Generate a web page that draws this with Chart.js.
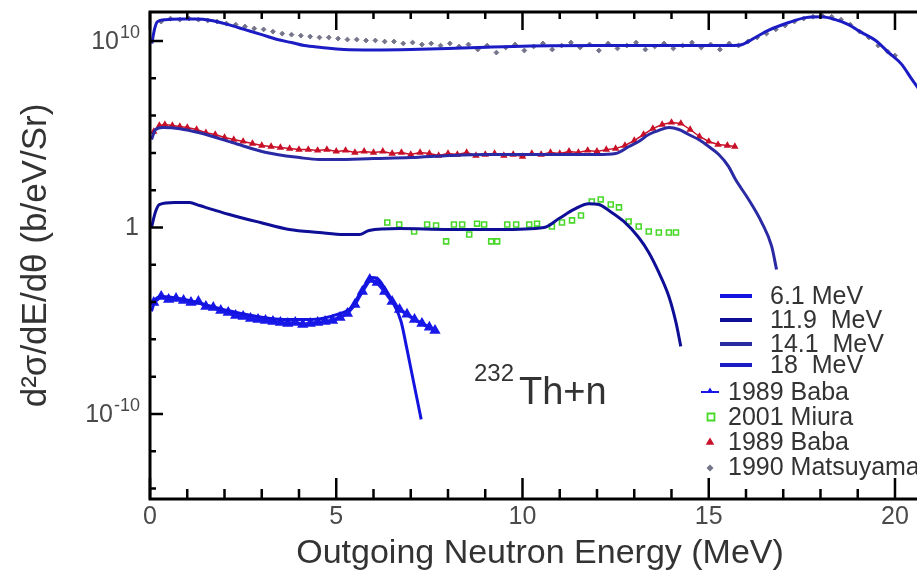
<!DOCTYPE html>
<html>
<head>
<meta charset="utf-8">
<script src="https://cdn.jsdelivr.net/npm/chart.js@4/dist/chart.umd.min.js"></script>
<style>
  html, body { margin: 0; padding: 0; background: #fff; overflow: hidden; }
  #wrap { position: relative; width: 940px; height: 574px; }
</style>
</head>
<body>
<div id="wrap"><canvas id="c"></canvas></div>
<script>
// ---------------- data ----------------
const seriesLabels = ['6.1 MeV', '11.9  MeV', '14.1  MeV', '18  MeV',
                      '1989 Baba', '2001 Miura', '1989 Baba', '1990 Matsuyama'];

// calculated curves
const energy61Calc = [0.04, 0.15, 0.31, 0.92, 1.46, 2.08, 2.72, 3.61, 4.33, 5.03, 5.40, 5.67, 5.94, 6.10, 6.29, 6.55, 6.74, 6.90, 7.09, 7.28];
const sigma61Calc  = [3.2e-5, 1.4e-4, 2.0e-4, 1.4e-4, 7.4e-5, 3.5e-5, 1.9e-5, 1.17e-5, 1.17e-5, 2.2e-5, 5.1e-5, 3.7e-4, 2.1e-3, 1.85e-3, 6.0e-4, 7.4e-5, 9.1e-6, 2.9e-7, 3.8e-9, 5.1e-11];

const energy119Calc = [0.04, 0.15, 0.25, 0.66, 1.06, 1.33, 2.13, 2.94, 3.74, 4.54, 5.21, 5.62, 5.88, 6.69, 8.03, 9.37, 10.58, 10.98, 11.38, 11.78, 12.05, 12.32, 12.72, 13.12, 13.39, 13.66, 13.93, 14.12, 14.25];
const sigma119Calc  = [1.0, 7.2, 17, 22, 22, 15, 5.0, 1.9, 0.78, 0.54, 0.42, 0.42, 0.69, 0.88, 0.78, 0.78, 1.0, 3.0, 9.3, 19, 17, 8.1, 2.1, 0.29, 0.046, 0.0039, 2.0e-4, 8.1e-6, 4.2e-7];

const energy141Calc = [0.04, 0.15, 0.34, 0.8, 1.33, 2.21, 3.12, 4.01, 4.54, 5.0, 6.0, 7.0, 8.03, 9.0, 10.0, 11.0, 12.0, 12.5, 12.86, 13.12, 13.39, 13.66, 13.93, 14.2, 14.46, 14.73, 15.0, 15.27, 15.53, 15.72, 16.07, 16.42, 16.69, 16.82];
const sigma141Calc  = [5.2e4, 1.8e5, 2.3e5, 2.0e5, 1.2e5, 3.6e4, 1.05e4, 5.6e3, 4.4e3, 4.4e3, 5.0e3, 5.6e3, 7.2e3, 8.2e3, 8.2e3, 8.2e3, 8.2e3, 9.3e3, 2.2e4, 4.1e4, 9.7e4, 1.6e5, 2.3e5, 1.8e5, 9.7e4, 5.2e4, 2.2e4, 8.2e3, 1.9e3, 3.7e2, 32, 1.9, 0.096, 0.0056];

const energy18Calc = [0.05, 0.12, 0.2, 0.4, 0.8, 1.2, 1.65, 2.1, 2.53, 3.0, 3.42, 3.8, 4.14, 4.6, 5.2, 6.0, 7.0, 8.0, 8.8, 10.2, 12.0, 14.0, 15.6, 15.9, 16.25, 16.6, 17.15, 17.6, 18.03, 18.4, 18.75, 19.1, 19.48, 19.83, 20.18, 20.45, 20.94];
const sigma18Calc  = [7.4e9, 4.2e10, 1.1e11, 1.4e11, 1.5e11, 1.5e11, 1.26e11, 7.6e10, 4.2e10, 2.2e10, 1.2e10, 8.3e9, 5.7e9, 4.5e9, 3.5e9, 3.3e9, 3.5e9, 4.0e9, 4.5e9, 5.4e9, 5.7e9, 5.7e9, 5.7e9, 6.5e9, 1.55e10, 3.7e10, 9.8e10, 1.8e11, 2.0e11, 1.4e11, 7.6e10, 2.9e10, 1.07e10, 2.4e9, 5.6e8, 9.0e7, 4.0e6];

// measurements
const energyBaba61 = [0.1, 0.3, 0.5, 0.7, 0.9, 1.1, 1.3, 1.5, 1.7, 1.9, 2.1, 2.3, 2.5, 2.7, 2.9, 3.1, 3.3, 3.5, 3.7, 3.9, 4.1, 4.3, 4.5, 4.7, 4.9, 5.1, 5.3, 5.5, 5.7, 5.9, 6.1, 6.3, 6.5, 6.7, 6.9, 7.1, 7.3, 7.5, 7.65];
const sigmaBaba61  = [9.5e-5, 2.0e-4, 1.38e-4, 1.55e-4, 1.22e-4, 9.5e-5, 1.07e-4, 5.8e-5, 5.1e-5, 3.5e-5, 2.8e-5, 1.9e-5, 1.7e-5, 1.32e-5, 1.17e-5, 1.03e-5, 9.1e-6, 8.1e-6, 7.1e-6, 8.1e-6, 6.3e-6, 7.1e-6, 8.1e-6, 9.1e-6, 1.03e-5, 1.5e-5, 2.45e-5, 7.4e-5, 3.7e-4, 1.6e-3, 1.12e-3, 3.7e-4, 1.07e-4, 4.0e-5, 2.2e-5, 1.17e-5, 7.1e-6, 4.4e-6, 3.0e-6];

const energyMiura = [6.37, 6.69, 7.09, 7.44, 7.68, 7.95, 8.16, 8.38, 8.57, 8.78, 8.97, 9.16, 9.32, 9.59, 9.83, 10.18, 10.39, 10.79, 11.06, 11.33, 11.57, 11.86, 12.10, 12.37, 12.59, 12.85, 13.12, 13.39, 13.66, 13.93, 14.12];
const sigmaMiura  = [1.85, 1.45, 0.61, 1.45, 1.28, 0.18, 1.45, 1.45, 0.42, 1.6, 1.45, 0.18, 0.18, 1.45, 1.45, 1.45, 1.6, 1.13, 1.85, 2.4, 4.4, 25, 32, 17, 12, 2.1, 1.13, 0.61, 0.54, 0.54, 0.54];

const energyBaba141 = [0.1, 0.25, 0.4, 0.6, 0.8, 1.0, 1.25, 1.5, 1.75, 2.0, 2.25, 2.5, 2.75, 3.0, 3.25, 3.5, 3.75, 4.0, 4.25, 4.5, 4.75, 5.0, 5.25, 5.5, 5.75, 6.0, 6.25, 6.5, 6.75, 7.0, 7.25, 7.5, 7.75, 8.0, 8.25, 8.5, 8.75, 9.0, 9.25, 9.5, 9.75, 10.0, 10.25, 10.5, 10.75, 11.0, 11.25, 11.5, 11.75, 12.0, 12.25, 12.5, 12.75, 13.0, 13.25, 13.5, 13.75, 14.0, 14.25, 14.5, 14.75, 15.0, 15.25, 15.5, 15.7];
const sigmaBaba141  = [1.4e5, 2.95e5, 3.3e5, 2.95e5, 2.6e5, 2.3e5, 1.8e5, 1.2e5, 9.7e4, 6.7e4, 5.2e4, 4.1e4, 3.2e4, 2.5e4, 2.2e4, 1.95e4, 1.7e4, 1.5e4, 1.5e4, 1.35e4, 1.5e4, 1.2e4, 1.35e4, 1.05e4, 1.2e4, 1.05e4, 1.2e4, 9.3e3, 1.05e4, 8.2e3, 1.05e4, 9.3e3, 7.2e3, 9.3e3, 8.2e3, 1.05e4, 7.2e3, 8.2e3, 9.3e3, 7.2e3, 8.2e3, 6.4e3, 9.3e3, 8.2e3, 1.05e4, 9.3e3, 1.2e4, 1.05e4, 1.35e4, 1.2e4, 1.5e4, 1.7e4, 2.5e4, 4.6e4, 9.7e4, 2.0e5, 3.3e5, 4.3e5, 3.8e5, 1.8e5, 7.6e4, 4.1e4, 2.8e4, 2.5e4, 2.2e4];

const energyMatsuyama = [0.3, 0.55, 0.8, 1.05, 1.3, 1.55, 1.8, 2.05, 2.3, 2.55, 2.8, 3.05, 3.3, 3.55, 3.8, 4.05, 4.3, 4.55, 4.8, 5.05, 5.3, 5.55, 5.8, 6.05, 6.3, 6.55, 6.8, 7.05, 7.3, 7.55, 7.8, 8.05, 8.3, 8.55, 8.8, 9.05, 9.3, 9.55, 9.8, 10.05, 10.3, 10.55, 10.8, 11.05, 11.3, 11.55, 11.8, 12.05, 12.3, 12.55, 12.8, 13.05, 13.3, 13.55, 13.8, 14.05, 14.3, 14.55, 14.8, 15.05, 15.3, 15.55, 15.8, 16.05, 16.3, 16.55, 16.8, 17.05, 17.3, 17.55, 17.8, 18.05, 18.3, 18.55, 18.8, 19.05, 19.3, 19.55, 19.8, 20.0];
const sigmaMatsuyama  = [1.1e11, 1.6e11, 1.4e11, 1.6e11, 1.4e11, 1.26e11, 1.1e11, 8.7e10, 7.6e10, 6.0e10, 4.7e10, 4.2e10, 3.2e10, 2.5e10, 2.2e10, 1.95e10, 1.74e10, 1.55e10, 1.55e10, 1.35e10, 1.2e10, 1.2e10, 1.07e10, 1.07e10, 9.4e9, 9.4e9, 7.4e9, 8.3e9, 6.5e9, 7.4e9, 5.7e9, 7.4e9, 5.1e9, 6.5e9, 3.5e9, 5.7e9, 2.4e9, 4.5e9, 6.5e9, 3.1e9, 5.1e9, 7.4e9, 3.5e9, 5.7e9, 8.3e9, 4.5e9, 6.5e9, 3.1e9, 7.4e9, 4.0e9, 5.7e9, 8.3e9, 3.5e9, 5.1e9, 7.4e9, 4.0e9, 5.7e9, 8.3e9, 4.5e9, 6.5e9, 3.5e9, 7.4e9, 5.7e9, 9.4e9, 1.55e10, 2.5e10, 4.2e10, 6.8e10, 1.1e11, 1.6e11, 2.0e11, 2.3e11, 2.0e11, 1.4e11, 7.6e10, 3.2e10, 1.55e10, 5.7e9, 2.75e9, 1.66e9];

// ticks and labels
const xLabelValues = [0, 5, 10, 15, 20];
const yTickValues = [1e-14, 1e-12, 1e-10, 1e-8, 1e-6, 1e-4, 1e-2, 1, 1e2, 1e4, 1e6, 1e8, 1e10];
const yLabelValues = [1e10, 1, 1e-10];
const yLabelBases = ['10', '1', '10'];
const yLabelExponents = ['10', '', '-10'];
const xTitle = 'Outgoing Neutron Energy (MeV)';
const yTitle = 'd\u00B2\u03C3/dE/d\u03B8 (b/eV/Sr)';
const noteMass = '232';
const noteText = 'Th+n';

// ---------------- chart ----------------
const FONT = '"Liberation Sans", Arial, Helvetica, sans-serif';
const pairs = (xs, ys) => xs.map((x, i) => ({ x: x, y: ys[i] }));

const lineColors = ['#1414e0', '#0e0e96', '#2a2aa4', '#1c1cc4'];

const datasets = [
  { label: seriesLabels[0], data: pairs(energy61Calc, sigma61Calc), borderColor: lineColors[0], borderWidth: 3, pointRadius: 0, cubicInterpolationMode: 'monotone', fill: false },
  { label: seriesLabels[1], data: pairs(energy119Calc, sigma119Calc), borderColor: lineColors[1], borderWidth: 3, pointRadius: 0, cubicInterpolationMode: 'monotone', fill: false },
  { label: seriesLabels[2], data: pairs(energy141Calc, sigma141Calc), borderColor: lineColors[2], borderWidth: 3, pointRadius: 0, cubicInterpolationMode: 'monotone', fill: false },
  { label: seriesLabels[3], data: pairs(energy18Calc, sigma18Calc), borderColor: lineColors[3], borderWidth: 3, pointRadius: 0, cubicInterpolationMode: 'monotone', fill: false },
  { label: seriesLabels[4], data: pairs(energyBaba61, sigmaBaba61), showLine: true, borderColor: '#1818e8', borderWidth: 3.5, pointStyle: 'triangle', pointRadius: 3, backgroundColor: '#1818e8', pointBorderColor: '#1818e8', fill: false },
  { label: seriesLabels[5], data: pairs(energyMiura, sigmaMiura), showLine: false, pointStyle: 'rect', pointRadius: 3.5, backgroundColor: 'rgba(255,255,255,0)', pointBorderColor: '#48d828', pointBorderWidth: 1.6, borderColor: '#48d828' },
  { label: seriesLabels[6], data: pairs(energyBaba141, sigmaBaba141), showLine: true, borderColor: '#c81028', borderWidth: 1.5, pointStyle: 'triangle', pointRadius: 2.8, backgroundColor: '#c81028', pointBorderColor: '#c81028', fill: false },
  { label: seriesLabels[7], data: pairs(energyMatsuyama, sigmaMatsuyama), showLine: false, pointStyle: 'rectRot', pointRadius: 2.4, backgroundColor: '#74748a', pointBorderColor: '#74748a', borderColor: '#74748a', pointBorderWidth: 1 }
];

function drawMarker(ctx, style, x, y, r, fill, stroke, lw) {
  ctx.beginPath();
  if (style === 'triangle') {
    ctx.moveTo(x, y - r); ctx.lineTo(x + r * 0.95, y + r * 0.6); ctx.lineTo(x - r * 0.95, y + r * 0.6); ctx.closePath();
  } else if (style === 'rect') {
    ctx.rect(x - r, y - r, 2 * r, 2 * r);
  } else {
    ctx.moveTo(x, y - r); ctx.lineTo(x + r, y); ctx.lineTo(x, y + r); ctx.lineTo(x - r, y); ctx.closePath();
  }
  if (fill) { ctx.fillStyle = fill; ctx.fill(); }
  if (stroke) { ctx.strokeStyle = stroke; ctx.lineWidth = lw; ctx.stroke(); }
}

const decorations = {
  id: 'decorations',
  afterDraw(chart) {
    const ctx = chart.ctx;
    const a = chart.chartArea;
    const xs = chart.scales.x, ys = chart.scales.y;
    ctx.save();

    // frame
    ctx.strokeStyle = '#000';
    ctx.lineWidth = 3;
    ctx.strokeRect(a.left, a.top, a.right - a.left, a.bottom - a.top);

    // x ticks (inward, bottom and top)
    ctx.lineWidth = 2.5;
    ctx.beginPath();
    xs.ticks.forEach(t => {
      const px = xs.getPixelForValue(t.value);
      const major = xLabelValues.includes(t.value);
      ctx.moveTo(px, a.bottom); ctx.lineTo(px, a.bottom - (major ? 21 : 10));
      ctx.moveTo(px, a.top); ctx.lineTo(px, a.top + (major ? 18 : 7));
    });
    // y ticks (inward, left and right)
    ys.ticks.forEach(t => {
      const py = ys.getPixelForValue(t.value);
      const major = yLabelValues.includes(t.value);
      const len = major ? 13 : 6;
      ctx.moveTo(a.left, py); ctx.lineTo(a.left + len, py);
      ctx.moveTo(a.right, py); ctx.lineTo(a.right - len, py);
    });
    ctx.stroke();

    // y tick labels with superscripts
    ctx.fillStyle = '#4a4a4a';
    ctx.textBaseline = 'middle';
    ctx.textAlign = 'left';
    const rightEdge = 139;
    yLabelValues.forEach((v, i) => {
      const py = ys.getPixelForValue(v);
      ctx.font = '25px ' + FONT;
      const bw = ctx.measureText(yLabelBases[i]).width;
      ctx.font = '18px ' + FONT;
      const ew = yLabelExponents[i] ? ctx.measureText(yLabelExponents[i]).width : 0;
      const x0 = rightEdge - bw - ew;
      ctx.font = '25px ' + FONT;
      ctx.fillText(yLabelBases[i], x0, py + 1);
      if (yLabelExponents[i]) {
        ctx.font = '18px ' + FONT;
        ctx.fillText(yLabelExponents[i], x0 + bw + 1, py - 8);
      }
    });

    // legend
    const ds = chart.data.datasets;
    ctx.fillStyle = '#333';
    ctx.font = '25px ' + FONT;
    const lineRowsY = [296, 320, 344, 365];
    lineRowsY.forEach((ry, i) => {
      ctx.strokeStyle = ds[i].borderColor;
      ctx.lineWidth = 4;
      ctx.beginPath(); ctx.moveTo(720, ry); ctx.lineTo(752, ry); ctx.stroke();
      ctx.fillStyle = '#333';
      ctx.fillText(ds[i].label, 770, ry + 1);
    });
    const markerRowsY = [392, 417, 442, 467];
    markerRowsY.forEach((ry, k) => {
      const d = ds[4 + k];
      const col = d.pointBorderColor;
      if (k === 0) {
        ctx.strokeStyle = col; ctx.lineWidth = 2;
        ctx.beginPath(); ctx.moveTo(701, ry); ctx.lineTo(719, ry); ctx.stroke();
        drawMarker(ctx, 'triangle', 710, ry - 1, 3.5, col, null, 0);
      } else if (k === 1) {
        drawMarker(ctx, 'rect', 711, ry, 3.5, null, col, 1.8);
      } else if (k === 2) {
        drawMarker(ctx, 'triangle', 710, ry, 4.5, col, null, 0);
      } else {
        drawMarker(ctx, 'rectRot', 710, ry + 1, 3.5, col, null, 0);
      }
      ctx.fillStyle = '#333';
      ctx.font = '25px ' + FONT;
      ctx.fillText(d.label, 728, ry + 1);
    });

    // annotation 232Th+n
    ctx.fillStyle = '#333';
    ctx.textBaseline = 'alphabetic';
    ctx.font = '24px ' + FONT;
    ctx.fillText(noteMass, 474, 381);
    ctx.font = '38px ' + FONT;
    ctx.fillText(noteText, 519, 404);

    ctx.restore();
  }
};

new Chart(document.getElementById('c'), {
  type: 'line',
  data: { datasets: datasets },
  options: {
    responsive: true,
    maintainAspectRatio: false,
    animation: false,
    layout: { padding: { top: 12, right: 10, bottom: 0, left: 0 } },
    plugins: { legend: { display: false }, tooltip: { enabled: false } },
    elements: { line: { tension: 0 } },
    scales: {
      x: {
        type: 'linear',
        min: 0,
        max: 20.94,
        afterFit: s => { s.height = 75; },
        grid: { display: false, drawTicks: false },
        border: { display: false },
        ticks: {
          stepSize: 1,
          autoSkip: false,
          maxRotation: 0,
          includeBounds: false,
          padding: 3,
          color: '#4a4a4a',
          font: { family: FONT, size: 25 },
          callback: v => xLabelValues.includes(v) ? String(v) : ''
        },
        title: { display: true, text: xTitle, color: '#333', font: { family: FONT, size: 34 }, padding: { top: 0, bottom: 0 } }
      },
      y: {
        type: 'logarithmic',
        min: 2.75e-15,
        max: 3.6e11,
        afterFit: s => { s.width = 150; },
        afterBuildTicks: s => { s.ticks = yTickValues.map(v => ({ value: v })); },
        grid: { display: false, drawTicks: false },
        border: { display: false },
        ticks: { display: false },
        title: { display: true, text: yTitle, color: '#333', font: { family: FONT, size: 35 }, padding: { top: 15, bottom: 0 } }
      }
    }
  },
  plugins: [decorations]
});
</script>
</body>
</html>
